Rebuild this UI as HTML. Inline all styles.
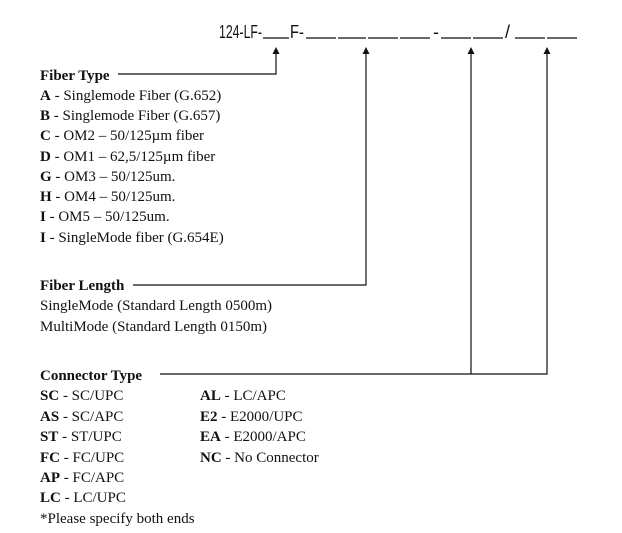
<!DOCTYPE html>
<html><head><meta charset="utf-8"><style>
html,body{margin:0;padding:0;background:#fff;}
svg{display:block;}
text{font-family:"Liberation Serif",serif;font-size:15px;fill:#111;}
.b{font-weight:bold;}
.t{font-family:"Liberation Sans",sans-serif;font-size:18px;}
</style></head><body>
<svg width="622" height="533" viewBox="0 0 622 533" xmlns="http://www.w3.org/2000/svg">
<g stroke="#111" stroke-width="1.2" fill="none">
<line x1="263" y1="38" x2="289" y2="38"/>
<line x1="306" y1="38" x2="336" y2="38"/>
<line x1="338" y1="38" x2="366" y2="38"/>
<line x1="368" y1="38" x2="398" y2="38"/>
<line x1="400" y1="38" x2="430" y2="38"/>
<line x1="441" y1="38" x2="471" y2="38"/>
<line x1="473" y1="38" x2="503" y2="38"/>
<line x1="515" y1="38" x2="545" y2="38"/>
<line x1="547" y1="38" x2="577" y2="38"/>
<polyline points="118,74 276,74 276,52"/>
<polyline points="133,285 366,285 366,52"/>
<polyline points="160,374 547,374 547,52"/>
<line x1="471" y1="374" x2="471" y2="52"/>
</g>
<g fill="#111">
<polygon points="276,47 272.5,54 279.5,54"/>
<polygon points="366,47 362.5,54 369.5,54"/>
<polygon points="471,47 467.5,54 474.5,54"/>
<polygon points="547,47 543.5,54 550.5,54"/>
</g>
<text class="t" x="219" y="38" textLength="43" lengthAdjust="spacingAndGlyphs">124-LF-</text>
<text class="t" x="290" y="38" textLength="14" lengthAdjust="spacingAndGlyphs">F-</text>
<text class="t" x="433" y="38">-</text>
<text class="t" x="505" y="38">/</text>

<text class="b" x="40" y="80">Fiber Type</text>
<text x="40" y="100"><tspan class="b">A</tspan> - Singlemode Fiber (G.652)</text>
<text x="40" y="120"><tspan class="b">B</tspan> - Singlemode Fiber (G.657)</text>
<text x="40" y="140"><tspan class="b">C</tspan> - OM2 – 50/125µm fiber</text>
<text x="40" y="161"><tspan class="b">D</tspan> - OM1 – 62,5/125µm fiber</text>
<text x="40" y="181"><tspan class="b">G</tspan> - OM3 – 50/125um.</text>
<text x="40" y="201"><tspan class="b">H</tspan> - OM4 – 50/125um.</text>
<text x="40" y="221"><tspan class="b">I</tspan> - OM5 – 50/125um.</text>
<text x="40" y="242"><tspan class="b">I</tspan> - SingleMode fiber (G.654E)</text>

<text class="b" x="40" y="290">Fiber Length</text>
<text x="40" y="310">SingleMode (Standard Length 0500m)</text>
<text x="40" y="331">MultiMode (Standard Length 0150m)</text>

<text class="b" x="40" y="380">Connector Type</text>
<text x="40" y="400"><tspan class="b">SC</tspan> - SC/UPC</text>
<text x="40" y="421"><tspan class="b">AS</tspan> - SC/APC</text>
<text x="40" y="441"><tspan class="b">ST</tspan> - ST/UPC</text>
<text x="40" y="462"><tspan class="b">FC</tspan> - FC/UPC</text>
<text x="40" y="482"><tspan class="b">AP</tspan> - FC/APC</text>
<text x="40" y="502"><tspan class="b">LC</tspan> - LC/UPC</text>
<text x="40" y="523">*Please specify both ends</text>
<text x="200" y="400"><tspan class="b">AL</tspan> - LC/APC</text>
<text x="200" y="421"><tspan class="b">E2</tspan> - E2000/UPC</text>
<text x="200" y="441"><tspan class="b">EA</tspan> - E2000/APC</text>
<text x="200" y="462"><tspan class="b">NC</tspan> - No Connector</text>
</svg>
</body></html>
